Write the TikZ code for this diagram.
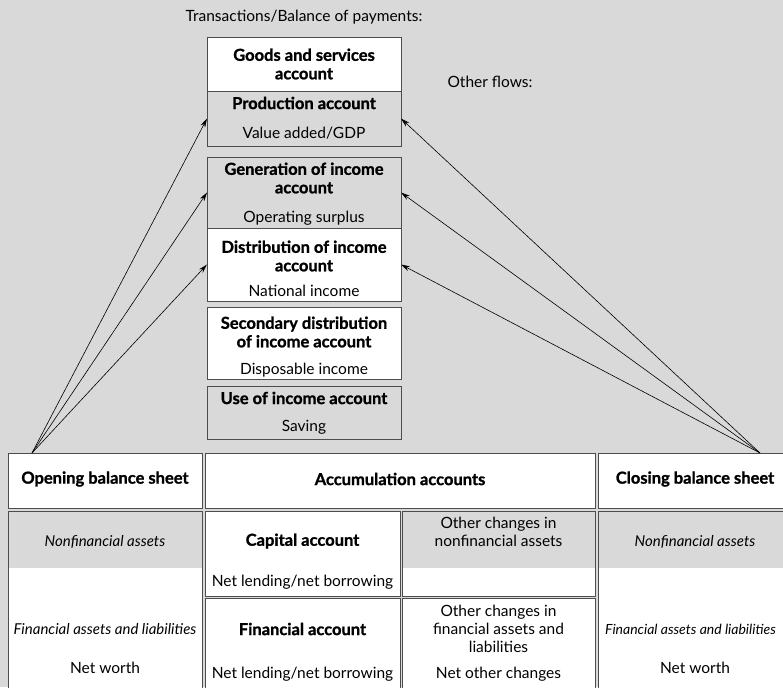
\documentclass[tikz,border=0pt]{standalone}
\usepackage{fontspec}
\setmainfont{Lato}[BoldFeatures={FakeBold=1.2}]
\usepackage{tikz}
\usetikzlibrary{arrows.meta}
\definecolor{bggray}{HTML}{D9D9D9}
\definecolor{edgegray}{HTML}{4D4D4D}
\tikzset{
  acct/.style={draw=edgegray, line width=0.8pt, inner sep=0pt, outer sep=0pt},
  topgray/.style={path picture={\fill[bggray] (path picture bounding box.north west) rectangle ([yshift=-57pt]path picture bounding box.north east);}},
  ttl/.style={font=\fontsize{16.5}{18.5}\selectfont\bfseries, align=center},
  txt/.style={font=\fontsize{15.5}{18}\selectfont, align=center},
  itl/.style={font=\fontsize{15}{17}\selectfont\itshape},
  flow/.style={-{Stealth[length=9pt,width=5pt]}, line width=0.6pt},
}

\begin{document}
\begin{tikzpicture}[x=1pt,y=-1pt]
    \useasboundingbox (0,0) rectangle (783,687);
    \clip (0,0) rectangle (783,687);
    \fill[bggray] (0,0) rectangle (783,687);

    % headings
    \node[txt] (trhead) at (304,17) {Transactions/Balance of payments:};
    \node[txt] (ofhead) at (490,82) {Other flows:};

    % current accounts
    \node[acct, fill=white, minimum width=194pt, minimum height=54pt] (goods) at (304,64) {};
    \node[acct, fill=bggray, minimum width=194pt, minimum height=55pt] (prod) at (304,118.5) {};
    \node[acct, fill=bggray, minimum width=194pt, minimum height=71pt] (gen) at (304,192.5) {};
    \node[acct, fill=white, minimum width=194pt, minimum height=73pt] (dist) at (304,264.5) {};
    \node[acct, fill=white, minimum width=194pt, minimum height=72pt] (sec) at (304,343) {};
    \node[acct, fill=bggray, minimum width=194pt, minimum height=53pt] (use) at (304,412.5) {};

    \node[ttl] (goodst) at (304,64) {Goods and services\\account};
    \node[ttl] (prodt) at (304,103) {Production account};
    \node[txt] (prodb) at (304,133) {Value added/GDP};
    \node[ttl] (gent) at (304,178) {Generation of income\\account};
    \node[txt] (genb) at (304,218) {Operating surplus};
    \node[ttl] (distt) at (304,256) {Distribution of income\\account};
    \node[txt] (distb) at (304,291) {National income};
    \node[ttl] (sect) at (304,332) {Secondary distribution\\of income account};
    \node[txt] (secb) at (304,370) {Disposable income};
    \node[ttl] (uset) at (304,398) {Use of income account};
    \node[txt] (useb) at (304,427) {Saving};

    % balance sheets and accumulation
    \node[acct, fill=white, minimum width=194pt, minimum height=55pt] (open) at (105,480.5) {};
    \node[acct, fill=white, minimum width=390pt, minimum height=55pt] (accum) at (400,480.5) {};
    \node[acct, fill=white, minimum width=194pt, minimum height=55pt] (close) at (695,480.5) {};
    \node[ttl] (opent) at (105,479) {Opening balance sheet};
    \node[ttl] (accumt) at (400,479) {Accumulation accounts};
    \node[ttl] (closet) at (695,479) {Closing balance sheet};

    \node[acct, fill=white, topgray, minimum width=194pt, minimum height=189pt] (openl) at (105,605.5) {};
    \node[acct, fill=white, minimum width=195pt, minimum height=85pt] (cap) at (302.5,553.5) {};
    \node[acct, fill=white, minimum width=195pt, minimum height=102pt] (fin) at (302.5,649) {};
    \node[acct, fill=white, topgray, minimum width=193pt, minimum height=85pt] (ocnf) at (498.5,553.5) {};
    \node[acct, fill=white, minimum width=193pt, minimum height=102pt] (ocfa) at (498.5,649) {};
    \node[acct, fill=white, topgray, minimum width=194pt, minimum height=189pt] (closel) at (695,605.5) {};

    \node[itl] (opennf) at (105,542) {Nonfinancial assets};
    \node[itl] (openfa) at (105,629) {Financial assets and liabilities};
    \node[txt] (opennw) at (105,668) {Net worth};
    \node[ttl] (capt) at (302.5,541) {Capital account};
    \node[txt] (capb) at (302.5,582) {Net lending/net borrowing};
    \node[ttl] (fint) at (302.5,629) {Financial account};
    \node[txt] (finb) at (302.5,674) {Net lending/net borrowing};
    \node[txt] (ocnft) at (498.5,532) {Other changes in\\nonfinancial assets};
    \node[txt] (ocfat) at (498.5,629) {Other changes in\\financial assets and\\liabilities};
    \node[txt] (ocfab) at (498.5,674) {Net other changes};
    \node[itl] (closenf) at (695,542) {Nonfinancial assets};
    \node[itl, font=\fontsize{14}{17}\selectfont\itshape] (closefa) at (690.5,629) {Financial assets and liabilities};
    \node[txt] (closenw) at (695,668) {Net worth};

    % other flows
    \coordinate (osrc) at (32,453);
    \coordinate (csrc) at (760,453);
    \draw[flow] (osrc) -- (prod.west);
    \draw[flow] (osrc) -- (gen.west);
    \draw[flow] (osrc) -- (dist.west);
    \draw[flow] (csrc) -- (prod.east);
    \draw[flow] (csrc) -- (gen.east);
    \draw[flow] (csrc) -- (dist.east);
\end{tikzpicture}
\end{document}
